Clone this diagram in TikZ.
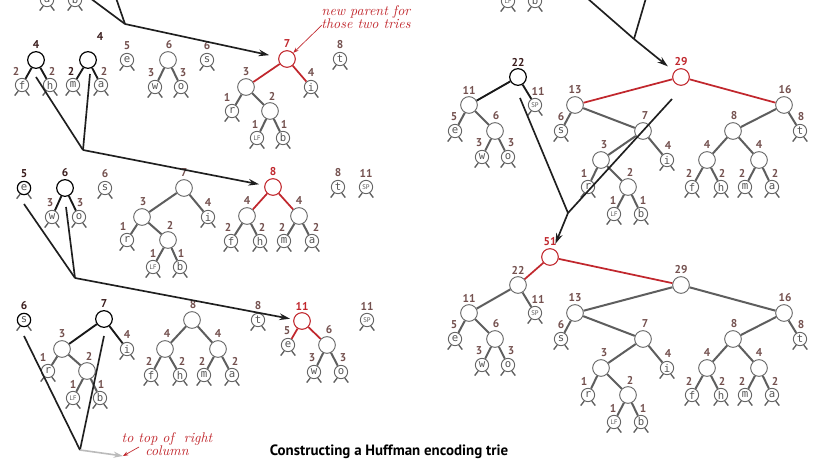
\documentclass[tikz,border=0pt]{standalone}
\usepackage{fontspec}
\setsansfont{PT Sans}
\setmonofont{DejaVu Sans Mono}
\usetikzlibrary{calc,arrows.meta}
\definecolor{hred}{HTML}{C1272D}
\definecolor{egray}{HTML}{5E5E5E}
\definecolor{ngray}{HTML}{666666}
\definecolor{lgray}{HTML}{555555}
\definecolor{wbrown}{HTML}{74514F}
\definecolor{wdark}{HTML}{3A1C1C}
\definecolor{agray}{HTML}{BBBBBB}
\tikzset{
 inode/.style={circle,draw=ngray,line width=0.7pt,minimum size=12.5pt,inner sep=0pt,fill=white},
 leaf/.style={circle,draw=ngray,line width=0.7pt,minimum size=10pt,inner sep=0pt,fill=white,font=\ttfamily\fontsize{8}{8}\selectfont,text=lgray},
 blk/.style={draw=black,line width=0.9pt},
 rd/.style={draw=hred,line width=0.8pt},
 small/.style={font=\sffamily\fontsize{5}{5}\selectfont},
 wt/.style={font=\sffamily\bfseries\fontsize{8.5}{9}\selectfont,text=wbrown,inner sep=0pt},
 wtd/.style={text=wdark},
 wtr/.style={text=hred},
 ge/.style={draw=egray,line width=1.5pt},
 be/.style={draw=black!90,line width=1.4pt},
 re/.style={draw=hred,line width=1.3pt},
 legs/.style={draw=egray,line width=1pt},
 link/.style={draw=black!88,line width=1.25pt},
 arr/.style={link,-{Stealth[length=8pt,width=5pt]}},
 garr/.style={draw=agray,line width=1.2pt,-{Stealth[length=7pt,width=4.5pt]}},
 narr/.style={draw=hred,line width=0.5pt,-{Stealth[length=4pt,width=3pt]}},
 note/.style={font=\rmfamily\itshape\fontsize{10.5}{10}\selectfont,text=hred,align=center,inner sep=0pt},
}
% leaf: nodestyle, wtstyle, name, x, y, text, weight, dx
\newcommand\Lf[8]{%
 \node[leaf,#1] (#3) at (#4,#5) {#6};
 \draw[legs] (#3.-122) -- ++(-3.5,4.5);
 \draw[legs] (#3.-58) -- ++(3.5,4.5);
 \node[wt,#2] (#3w) at (#4+#8,#5-14) {#7};}
% internal: nodestyle, wtstyle, name, x, y, weight, dx
\newcommand\In[7]{%
 \node[inode,#1] (#3) at (#4,#5) {};
 \node[wt,#2] (#3w) at (#4+#7,#5-15) {#6};}
% right-column trie: prefix, dy, 22style, 22wt, 22edge, 29style, 29wt, 29edge
\newcommand\RT[8]{%
 \In{#3}{#4}{#1a}{518}{77+#2}{22}{0}
 \In{}{}{#1b}{469}{105+#2}{11}{0}
 \Lf{small}{}{#1c}{535}{105+#2}{SP}{11}{3}
 \Lf{}{}{#1d}{455}{131+#2}{e}{5}{-1}
 \In{}{}{#1e}{495}{131+#2}{6}{1}
 \Lf{}{}{#1f}{482}{157+#2}{w}{3}{-3}
 \Lf{}{}{#1g}{508}{157+#2}{o}{3}{3}
 \draw[#5] (#1a)--(#1b); \draw[#5] (#1a)--(#1c);
 \draw[ge] (#1b)--(#1d); \draw[ge] (#1b)--(#1e);
 \draw[ge] (#1e)--(#1f); \draw[ge] (#1e)--(#1g);
 \In{#6}{#7}{#1h}{681}{77+#2}{29}{0}
 \In{}{}{#1i}{575}{105+#2}{13}{0}
 \In{}{}{#1j}{784}{105+#2}{16}{1}
 \Lf{}{}{#1k}{561}{131+#2}{s}{6}{0}
 \In{}{}{#1l}{643}{131+#2}{7}{2}
 \In{}{}{#1m}{601}{160+#2}{3}{3}
 \Lf{}{}{#1n}{667}{160+#2}{i}{4}{1}
 \Lf{}{}{#1o}{588}{187+#2}{r}{1}{-4}
 \In{}{}{#1p}{628}{187+#2}{2}{2}
 \Lf{small}{}{#1q}{614}{214+#2}{LF}{1}{-1}
 \Lf{}{}{#1r}{641}{214+#2}{b}{1}{2}
 \In{}{}{#1s}{733}{131+#2}{8}{1}
 \Lf{}{}{#1t}{800}{131+#2}{t}{8}{1}
 \In{}{}{#1u}{707}{160+#2}{4}{0}
 \In{}{}{#1v}{759}{160+#2}{4}{0}
 \Lf{}{}{#1w}{692}{187+#2}{f}{2}{-3}
 \Lf{}{}{#1x}{721}{187+#2}{h}{2}{1}
 \Lf{}{}{#1y}{745}{187+#2}{m}{2}{-3}
 \Lf{}{}{#1z}{772}{187+#2}{a}{2}{3}
 \draw[#8] (#1h)--(#1i); \draw[#8] (#1h)--(#1j);
 \draw[ge] (#1i)--(#1k); \draw[ge] (#1i)--(#1l);
 \draw[ge] (#1l)--(#1m); \draw[ge] (#1l)--(#1n);
 \draw[ge] (#1m)--(#1o); \draw[ge] (#1m)--(#1p);
 \draw[ge] (#1p)--(#1q); \draw[ge] (#1p)--(#1r);
 \draw[ge] (#1j)--(#1s); \draw[ge] (#1j)--(#1t);
 \draw[ge] (#1s)--(#1u); \draw[ge] (#1s)--(#1v);
 \draw[ge] (#1u)--(#1w); \draw[ge] (#1u)--(#1x);
 \draw[ge] (#1v)--(#1y); \draw[ge] (#1v)--(#1z);
}
\begin{document}
\begin{tikzpicture}[x=0.75pt,y=-0.75pt]
\useasboundingbox (0,0) rectangle (826,463);
\fill[white] (0,0) rectangle (826,463);
\clip (0,0) rectangle (826,463);
% ---------- partial leaves at the top
\Lf{}{}{ta}{47}{0}{a}{}{0}
\Lf{}{}{tb}{75}{0}{b}{}{0}
\Lf{small}{}{tL}{508}{1}{LF}{}{0}
\Lf{}{}{tR}{535}{1}{b}{}{0}
% ---------- row 1
\In{blk}{wtd}{a4}{36}{60}{4}{0}
\Lf{}{}{a4f}{22}{85}{f}{2}{-6}
\Lf{}{}{a4h}{50}{85}{h}{2}{2}
\draw[be] (a4)--(a4f); \draw[be] (a4)--(a4h);
\node[inode,blk] (b4) at (88,60) {};
\node[wt,wtd] (b4w) at (100,37) {4};
\Lf{}{wtd}{b4m}{73}{85}{m}{2}{-2}
\Lf{}{}{b4a}{101}{85}{a}{2}{3}
\draw[be] (b4)--(b4m); \draw[be] (b4)--(b4a);
\Lf{}{}{c5}{127}{60}{e}{5}{0}
\In{}{}{d6}{168}{60}{6}{1}
\Lf{}{}{d6w}{155}{87}{w}{3}{-4}
\Lf{}{}{d6o}{181}{87}{o}{3}{2}
\draw[ge] (d6)--(d6w); \draw[ge] (d6)--(d6o);
\Lf{}{}{e6}{207}{60}{s}{6}{0}
\In{rd}{wtr}{f7}{287}{59}{7}{0}
\In{}{}{f3}{246}{87}{3}{0}
\Lf{}{}{f4}{311}{87}{i}{4}{0}
\Lf{}{}{f1}{232}{111}{r}{1}{-5}
\In{}{}{f2}{270}{111}{2}{2}
\Lf{small}{}{fL}{257}{138}{LF}{1}{-2}
\Lf{}{}{fb}{283}{138}{b}{1}{1}
\draw[re] (f7)--(f3); \draw[re] (f7)--(f4);
\draw[ge] (f3)--(f1); \draw[ge] (f3)--(f2);
\draw[ge] (f2)--(fL); \draw[ge] (f2)--(fb);
\Lf{}{}{g8}{340}{59}{t}{8}{0}
\node[note] (n1) at (366,17) {new parent for\\those two tries};
\coordinate (n1s) at (322,25);
\draw[narr] (n1s) -- (f7);
% ---------- row 2
\Lf{blk}{wtd}{me}{24}{188}{e}{5}{0}
\In{blk}{wtd}{m6}{65}{188}{6}{0}
\Lf{}{}{m6w}{52}{217}{w}{3}{-2}
\Lf{}{}{m6o}{79}{217}{o}{3}{1}
\draw[be] (m6)--(m6w); \draw[be] (m6)--(m6o);
\Lf{}{}{ms}{105}{188}{s}{6}{0}
\In{}{}{m7}{184}{188}{7}{0}
\In{}{}{m3}{142}{217}{3}{1}
\Lf{}{}{mi}{208}{217}{i}{4}{0}
\Lf{}{}{mr}{127}{240}{r}{1}{-4}
\In{}{}{m2}{168}{240}{2}{2}
\Lf{small}{}{mL}{153}{267}{LF}{1}{0}
\Lf{}{}{mb}{180}{267}{b}{1}{1}
\draw[ge] (m7)--(m3); \draw[ge] (m7)--(mi);
\draw[ge] (m3)--(mr); \draw[ge] (m3)--(m2);
\draw[ge] (m2)--(mL); \draw[ge] (m2)--(mb);
\In{rd}{wtr}{m8}{273}{187}{8}{0}
\In{}{}{mq}{247}{216}{4}{0}
\In{}{}{mQ}{299}{216}{4}{0}
\Lf{}{}{mf}{231}{241}{f}{2}{-3}
\Lf{}{}{mh}{260}{241}{h}{2}{2}
\Lf{}{}{mm}{284}{241}{m}{2}{-2}
\Lf{}{}{ma}{312}{241}{a}{2}{4}
\draw[re] (m8)--(mq); \draw[re] (m8)--(mQ);
\draw[ge] (mq)--(mf); \draw[ge] (mq)--(mh);
\draw[ge] (mQ)--(mm); \draw[ge] (mQ)--(ma);
\Lf{}{}{mt}{338}{187}{t}{8}{0}
\Lf{small}{}{mS}{366}{187}{SP}{11}{0}
% ---------- row 3
\Lf{blk}{wtd}{ns}{24}{320}{s}{6}{0}
\In{blk}{wtd}{n7}{104}{319}{7}{0}
\In{}{}{n3}{62}{349}{3}{0}
\Lf{}{}{ni}{127}{349}{i}{4}{0}
\Lf{}{}{nr}{48}{371}{r}{1}{-5}
\In{}{}{n2}{87}{371}{2}{2}
\Lf{small}{}{nL}{73}{398}{LF}{1}{0}
\Lf{}{}{nb}{100}{398}{b}{1}{1}
\draw[be] (n7)--(n3); \draw[be] (n7)--(ni);
\draw[ge] (n3)--(nr); \draw[ge] (n3)--(n2);
\draw[ge] (n2)--(nL); \draw[ge] (n2)--(nb);
\In{}{}{n8}{192}{320}{8}{1}
\In{}{}{nq}{165}{349}{4}{2}
\In{}{}{nQ}{218}{349}{4}{0}
\Lf{}{}{nf}{151}{375}{f}{2}{-2}
\Lf{}{}{nh}{180}{375}{h}{2}{2}
\Lf{}{}{nm}{204}{375}{m}{2}{-2}
\Lf{}{}{na}{232}{375}{a}{2}{3}
\draw[ge] (n8)--(nq); \draw[ge] (n8)--(nQ);
\draw[ge] (nq)--(nf); \draw[ge] (nq)--(nh);
\draw[ge] (nQ)--(nm); \draw[ge] (nQ)--(na);
\Lf{}{}{nt}{258}{320}{t}{8}{0}
\In{rd}{wtr}{n11}{302}{321}{11}{0}
\Lf{}{}{ne}{288}{345}{e}{5}{-1}
\In{}{}{n6}{327}{345}{6}{2}
\Lf{}{}{nw}{314}{372}{w}{3}{-2}
\Lf{}{}{no}{341}{372}{o}{3}{2}
\draw[re] (n11)--(ne); \draw[re] (n11)--(n6);
\draw[ge] (n6)--(nw); \draw[ge] (n6)--(no);
\Lf{small}{}{nS}{367}{320}{SP}{11}{0}
% ---------- right column
\RT{T}{0}{blk}{wtd}{be}{rd}{wtr}{re}
\RT{B}{208}{}{}{ge}{}{}{ge}
\In{rd}{wtr}{R51}{550}{257}{51}{0}
\draw[re] (R51)--(Ba); \draw[re] (R51)--(Bh);
% ---------- connectors (left)
\coordinate (u1) at (90,-2); \coordinate (u2) at (116,-2);
\coordinate (j0) at (125,24);
\draw[link] (u1)--(j0); \draw[link] (u2)--(j0);
\draw[arr,shorten >=7pt] (j0)--(f7);
\coordinate (c1) at (36,77); \coordinate (c2) at (90,74);
\coordinate (j1) at (83,150);
\draw[link] (c1)--(j1); \draw[link] (c2)--(j1);
\draw[arr,shorten >=4pt] (j1)--(m8);
\coordinate (c3) at (24,204); \coordinate (c4) at (66,207);
\coordinate (j2) at (75,278);
\draw[link] (c3)--(j2); \draw[link] (c4)--(j2);
\draw[arr,shorten >=2.5pt] (j2)--(n11);
\coordinate (c5) at (24,336); \coordinate (c6) at (104,336);
\coordinate (j3) at (80,450);
\draw[link] (c5)--(j3); \draw[link] (c6)--(j3);
\coordinate (g1) at (123,456);
\draw[garr] (j3)--(g1);
\node[note] (n2) at (167,444) {to top of\ \ right\\column};
\coordinate (n2s) at (139,447);
\draw[narr] (n2s)--(g1);
% ---------- connectors (right)
\coordinate (v1) at (587,-2); \coordinate (v2) at (646,-2);
\coordinate (k0) at (634,39);
\draw[link] (v1)--(k0); \draw[link] (v2)--(k0);
\draw[arr,shorten >=6pt] (k0)--(Th);
\coordinate (v3) at (520,98); \coordinate (v4) at (672,99);
\coordinate (k1) at (568,213);
\draw[link] (v3)--(k1); \draw[link] (v4)--(k1);
\draw[arr,shorten >=4pt] (k1)--(R51);
% ---------- caption
\node[font=\sffamily\bfseries\fontsize{11.2}{13}\selectfont,inner sep=0pt] (cap) at (389,452) {Constructing a Huffman encoding trie};
\end{tikzpicture}
\end{document}
